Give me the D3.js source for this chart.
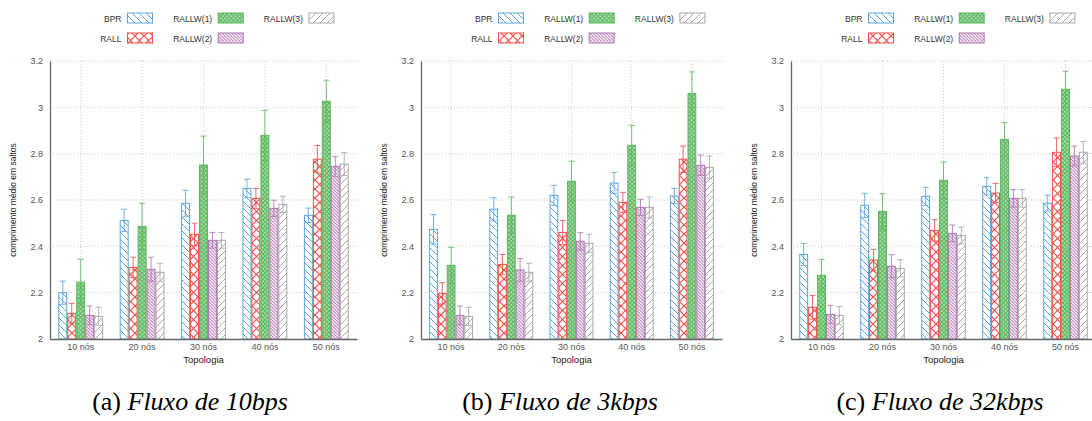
<!DOCTYPE html>
<html>
<head>
<meta charset="utf-8">
<script src="https://cdn.jsdelivr.net/npm/d3@7"></script>
<style>
  html, body { margin: 0; padding: 0; background: #fff; }
  svg { display: block; }
</style>
</head>
<body>
<svg id="chart" width="1092" height="421"></svg>
<script>
// ---------- data ----------
const categories = ["10 nós", "20 nós", "30 nós", "40 nós", "50 nós"];
const seriesNames = ["BPR", "RALL", "RALLW(1)", "RALLW(2)", "RALLW(3)"];
const yTicks = [2, 2.2, 2.4, 2.6, 2.8, 3, 3.2];
const yTickLabels = ["2", "2.2", "2.4", "2.6", "2.8", "3", "3.2"];
const yLabel = "comprimento médio em saltos";
const xLabel = "Topologia";

// panel (a) Fluxo de 10bps : rows = series, columns = categories
const values10bps = [
  [2.200, 2.512, 2.586, 2.650, 2.534],
  [2.111, 2.309, 2.452, 2.607, 2.776],
  [2.245, 2.486, 2.751, 2.879, 3.026],
  [2.102, 2.301, 2.426, 2.564, 2.745],
  [2.098, 2.288, 2.426, 2.581, 2.755]
];
const errors10bps = [
  [0.050, 0.048, 0.056, 0.040, 0.031],
  [0.043, 0.044, 0.048, 0.043, 0.059],
  [0.099, 0.100, 0.125, 0.108, 0.091],
  [0.040, 0.052, 0.034, 0.035, 0.043],
  [0.039, 0.039, 0.034, 0.035, 0.049]
];
// panel (b) Fluxo de 3kbps
const values3kbps = [
  [2.473, 2.560, 2.620, 2.673, 2.617],
  [2.197, 2.322, 2.460, 2.590, 2.776],
  [2.318, 2.534, 2.681, 2.836, 3.060],
  [2.102, 2.298, 2.422, 2.568, 2.750],
  [2.098, 2.288, 2.413, 2.568, 2.741]
];
const errors3kbps = [
  [0.064, 0.050, 0.043, 0.046, 0.033],
  [0.046, 0.043, 0.052, 0.043, 0.057],
  [0.078, 0.078, 0.086, 0.086, 0.093],
  [0.040, 0.049, 0.037, 0.035, 0.044],
  [0.039, 0.039, 0.039, 0.045, 0.049]
];
// panel (c) Fluxo de 32kbps
const values32kbps = [
  [2.365, 2.577, 2.616, 2.659, 2.586],
  [2.137, 2.341, 2.469, 2.630, 2.806],
  [2.275, 2.551, 2.685, 2.862, 3.078],
  [2.106, 2.314, 2.456, 2.607, 2.790],
  [2.102, 2.305, 2.447, 2.607, 2.806]
];
const errors32kbps = [
  [0.048, 0.052, 0.039, 0.037, 0.034],
  [0.051, 0.046, 0.046, 0.041, 0.062],
  [0.069, 0.076, 0.079, 0.072, 0.076],
  [0.039, 0.050, 0.036, 0.038, 0.043],
  [0.038, 0.037, 0.036, 0.038, 0.047]
];
const captionLetters = ["(a)", "(b)", "(c)"];
const captionTitles = ["Fluxo de 10bps", "Fluxo de 3kbps", "Fluxo de 32kbps"];

// ---------- styles ----------
const colors = ["#5aa5dc", "#f0504e", "#5cb85f", "#b276b2", "#a8a8a8"];
const panels = [
  { left: 50,  right: 357,  values: values10bps,  errors: errors10bps,  capX: 190 },
  { left: 421, right: 722,  values: values3kbps,  errors: errors3kbps,  capX: 560 },
  { left: 791, right: 1096, values: values32kbps, errors: errors32kbps, capX: 940 }
];
const plotTop = 61, plotBottom = 339;

const svg = d3.select("#chart");
const defs = svg.append("defs");

// hatch patterns
function linePattern(id, color, size, dir, sw) {
  const p = defs.append("pattern").attr("id", id).attr("patternUnits", "userSpaceOnUse")
    .attr("width", size).attr("height", size);
  p.append("rect").attr("width", size).attr("height", size).attr("fill", "#fff");
  const segs = dir === "back"
    ? [[0, 0, size, size], [-size, 0, 0, size], [size, 0, 2 * size, size]]
    : [[0, size, size, 0], [-size, size, 0, 0], [size, size, 2 * size, 0]];
  segs.forEach(s => p.append("line").attr("x1", s[0]).attr("y1", s[1]).attr("x2", s[2]).attr("y2", s[3])
    .attr("stroke", color).attr("stroke-width", sw));
}
linePattern("pat0", colors[0], 7, "back", 1);
linePattern("pat3", colors[3], 3.2, "back", 1);
linePattern("pat4", colors[4], 7, "fwd", 1);
// crosshatch (RALL)
{
  const s = 9;
  const p = defs.append("pattern").attr("id", "pat1").attr("patternUnits", "userSpaceOnUse")
    .attr("width", s).attr("height", s);
  p.append("rect").attr("width", s).attr("height", s).attr("fill", "#fff");
  [[0, 0, s, s], [0, s, s, 0]].forEach(l => p.append("line")
    .attr("x1", l[0]).attr("y1", l[1]).attr("x2", l[2]).attr("y2", l[3])
    .attr("stroke", colors[1]).attr("stroke-width", 1.2));
}
// fine checker (RALLW(1))
{
  const s = 3;
  const p = defs.append("pattern").attr("id", "pat2").attr("patternUnits", "userSpaceOnUse")
    .attr("width", s).attr("height", s).attr("patternTransform", "rotate(45)");
  p.append("rect").attr("width", s).attr("height", s).attr("fill", colors[2]);
  p.append("rect").attr("x", 0.3).attr("y", 0.3).attr("width", 1.4).attr("height", 1.4).attr("fill", "#ffffff");
}

const y = d3.scaleLinear().domain([yTicks[0], yTicks[yTicks.length - 1]]).range([plotBottom, plotTop]);

panels.forEach((P, pi) => {
  const g = svg.append("g");
  const x0 = d3.scaleBand().domain(categories).range([P.left, P.right]).paddingInner(0.27).paddingOuter(0.135);
  const x1 = d3.scaleBand().domain(d3.range(seriesNames.length)).range([0, x0.bandwidth()]).padding(0);

  // grid
  g.append("g").selectAll("line").data(yTicks.slice(1)).join("line")
    .attr("x1", P.left).attr("x2", P.right).attr("y1", d => y(d)).attr("y2", d => y(d))
    .attr("stroke", "#c8c8c8").attr("stroke-width", 1).attr("stroke-dasharray", "1,2");
  g.append("g").selectAll("line").data(categories).join("line")
    .attr("x1", d => x0(d) + x0.bandwidth() / 2).attr("x2", d => x0(d) + x0.bandwidth() / 2)
    .attr("y1", plotTop).attr("y2", plotBottom)
    .attr("stroke", "#c8c8c8").attr("stroke-width", 1).attr("stroke-dasharray", "1,2");

  // bars
  seriesNames.forEach((s, si) => {
    const sg = g.append("g");
    sg.selectAll("rect").data(categories).join("rect")
      .attr("x", c => x0(c) + x1(si) + 0.5)
      .attr("y", (c, ci) => y(P.values[si][ci]))
      .attr("width", x1.bandwidth() - 1)
      .attr("height", (c, ci) => plotBottom - y(P.values[si][ci]))
      .attr("fill", `url(#pat${si})`)
      .attr("stroke", colors[si]).attr("stroke-width", 1);
  });
  // error bars
  seriesNames.forEach((s, si) => {
    const eg = g.append("g").attr("stroke", colors[si]).attr("stroke-width", 1).attr("opacity", 0.85);
    categories.forEach((c, ci) => {
      const cx = x0(c) + x1(si) + x1.bandwidth() / 2;
      const v = P.values[si][ci], e = P.errors[si][ci];
      eg.append("line").attr("x1", cx).attr("x2", cx).attr("y1", y(v + e)).attr("y2", y(v - e));
      eg.append("line").attr("x1", cx - 3).attr("x2", cx + 3).attr("y1", y(v + e)).attr("y2", y(v + e));
      eg.append("line").attr("x1", cx - 3).attr("x2", cx + 3).attr("y1", y(v - e)).attr("y2", y(v - e));
    });
  });

  // axes
  const yAxis = d3.axisLeft(y).tickValues(yTicks).tickFormat((d, i) => yTickLabels[i]).tickSize(0).tickPadding(7);
  const ya = g.append("g").attr("transform", `translate(${P.left},0)`).call(yAxis);
  ya.select(".domain").attr("stroke", "#666").attr("stroke-width", 1.3);
  ya.selectAll("text").attr("fill", "#555").style("font-family", "Liberation Sans, Arial, sans-serif").style("font-size", "9px");

  const xAxis = d3.axisBottom(x0).tickSize(0).tickPadding(5);
  const xa = g.append("g").attr("transform", `translate(0,${plotBottom})`).call(xAxis);
  xa.select(".domain").attr("stroke", "#666").attr("stroke-width", 1.3);
  xa.selectAll("text").attr("fill", "#555").style("font-family", "Liberation Sans, Arial, sans-serif").style("font-size", "9px");

  // axis labels
  g.append("text").attr("transform", `translate(${P.left - 34},${(plotTop + plotBottom) / 2}) rotate(-90)`)
    .attr("text-anchor", "middle").attr("fill", "#222")
    .style("font-family", "Liberation Sans, Arial, sans-serif").style("font-size", "8.5px").text(yLabel);
  g.append("text").attr("x", (P.left + P.right) / 2).attr("y", 363)
    .attr("text-anchor", "middle").attr("fill", "#222")
    .style("font-family", "Liberation Sans, Arial, sans-serif").style("font-size", "9.5px").text(xLabel);

  // legend
  const lg = g.append("g");
  seriesNames.forEach((s, si) => {
    const col = Math.floor(si / 2), row = si % 2;
    const sx = P.left + 77.5 + col * 90.7;
    const sy = 13 + row * 20;
    lg.append("rect").attr("x", sx).attr("y", sy).attr("width", 25).attr("height", 10)
      .attr("fill", `url(#pat${si})`).attr("stroke", colors[si]).attr("stroke-width", 1);
    lg.append("text").attr("x", sx - 6).attr("y", sy + 8.5).attr("text-anchor", "end")
      .attr("fill", "#333").style("font-family", "Liberation Sans, Arial, sans-serif")
      .style("font-size", "8.5px").text(s);
  });

  // caption
  const cap = svg.append("text").attr("x", P.capX).attr("y", 410).attr("text-anchor", "middle")
    .attr("fill", "#000").style("font-family", "Liberation Serif, Times New Roman, serif").style("font-size", "26px");
  cap.append("tspan").text(captionLetters[pi] + " ");
  cap.append("tspan").style("font-style", "italic").text(captionTitles[pi]);
});
</script>
</body>
</html>
